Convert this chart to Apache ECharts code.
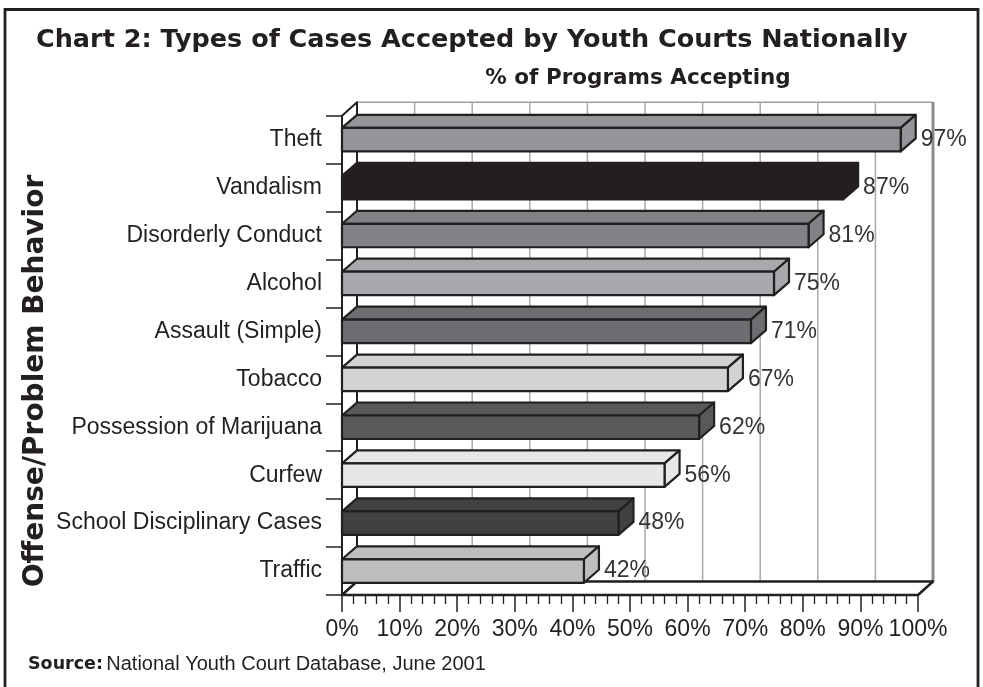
<!DOCTYPE html>
<html>
<head>
<meta charset="utf-8">
<script src="https://cdn.jsdelivr.net/npm/echarts@6/dist/echarts.min.js"></script>
<style>
html,body{margin:0;padding:0;background:#fff;}
#chart{width:983px;height:687px;}
</style>
</head>
<body>
<div id="chart"></div>
<script>
// ---- data ----
const categories = ['Theft','Vandalism','Disorderly Conduct','Alcohol','Assault (Simple)','Tobacco','Possession of Marijuana','Curfew','School Disciplinary Cases','Traffic'];
const values = [97,87,81,75,71,67,62,56,48,42];
const xTickValues = [0,10,20,30,40,50,60,70,80,90,100];

// ---- style ----
const barColors = ['#939598','#231f20','#808285','#a7a9ac','#6d6e71','#d1d3d4','#58595b','#e6e7e8','#414042','#bcbec0'];
const DX = 15, DY = -13.5;
const INK = '#231f20';
const LABEL_FONT = '"Liberation Sans", Arial, sans-serif';
const BOLD_FONT = '"DejaVu Sans", sans-serif';

const chart = echarts.init(document.getElementById('chart'));

function wallsRender(params, api) {
  const cs = params.coordSys;
  const x0 = cs.x, y0 = cs.y, w = cs.width, h = cs.height;
  const children = [];
  children.push({type:'rect', shape:{x:x0+DX, y:y0+DY, width:w, height:h},
    style:{fill:'#fff', stroke:'#9d9fa2', lineWidth:1.5}});
  xTickValues.forEach(function(t){
    if (t === 0) return;
    const px = api.coord([t, 0])[0] + DX;
    children.push({type:'line', shape:{x1:px, y1:y0+DY, x2:px, y2:y0+h+DY},
      style:{stroke: t === 100 ? '#8a8c8f' : '#a7a9ac', lineWidth: t === 100 ? 3 : 1.5}});
  });
  children.push({type:'polygon', shape:{points:[[x0,y0],[x0+DX,y0+DY],[x0+DX,y0+h+DY],[x0,y0+h]]},
    style:{fill:'#fff', stroke:INK, lineWidth:2, lineJoin:'round'}});
  children.push({type:'polygon', shape:{points:[[x0,y0+h],[x0+w,y0+h],[x0+w+DX,y0+h+DY],[x0+DX,y0+h+DY]]},
    style:{fill:'#fff', stroke:INK, lineWidth:2.5, lineJoin:'round'}});
  return {type:'group', children:children};
}

function barRender(params, api) {
  const v = api.value(0), c = api.value(1);
  const p0 = api.coord([0, c]);
  const p1 = api.coord([v, c]);
  const band = api.size([0, 1])[1];
  const hh = band * 0.49 / 2;
  const yT = p0[1] - hh, yB = p0[1] + hh;
  const xL = p0[0], xR = p1[0];
  const dx = 15, dy = -13;
  const col = barColors[params.dataIndex % barColors.length];
  const st = {fill: col, stroke: INK, lineWidth: 2.2, lineJoin: 'round'};
  return {type:'group', children:[
    {type:'polygon', shape:{points:[[xL,yT],[xR,yT],[xR+dx,yT+dy],[xL+dx,yT+dy]]}, style:st},
    {type:'polygon', shape:{points:[[xR,yT],[xR+dx,yT+dy],[xR+dx,yB+dy],[xR,yB]]}, style:st},
    {type:'rect', shape:{x:xL, y:yT, width:xR-xL, height:yB-yT}, style:st},
    {type:'text', x: xR + dx + 5, y: p0[1],
      style:{text: v + '%', fontSize: 23, fontFamily: LABEL_FONT, fill:'#333333',
        textAlign:'left', textVerticalAlign:'middle'}}
  ]};
}

const option = {
  animation: false,
  backgroundColor: '#fff',
  grid: {left: 342, right: 65, top: 115.7, bottom: 92, containLabel: false},
  xAxis: {
    type: 'value', min: 0, max: 100, interval: 10,
    axisLine: {show: true, lineStyle: {color: INK, width: 2}},
    axisTick: {show: true, length: 17, lineStyle: {color: INK, width: 1.5}},
    minorTick: {show: true, splitNumber: 5, length: 9, lineStyle: {color: INK, width: 1.3}},
    axisLabel: {formatter: '{value}%', fontSize: 23, fontFamily: LABEL_FONT, color: INK, margin: 23},
    splitLine: {show: false}
  },
  yAxis: {
    type: 'category', data: categories, inverse: true,
    axisLine: {show: true, lineStyle: {color: INK, width: 2}},
    axisTick: {show: true, length: 16, lineStyle: {color: INK, width: 1.5}},
    axisLabel: {fontSize: 23, fontFamily: LABEL_FONT, color: INK, margin: 20},
    splitLine: {show: false}
  },
  graphic: [
    {type:'rect', shape:{x:5, y:9.5, width:973, height:700}, style:{fill:'none', stroke:INK, lineWidth:2.8}, z:10},
    {type:'text', x:36, y:40, style:{text:'Chart 2: Types of Cases Accepted by Youth Courts Nationally',
      fontSize:25.5, fontWeight:'bold', fontFamily:BOLD_FONT, fill:INK, textAlign:'left', textVerticalAlign:'middle'}},
    {type:'text', x:638, y:78, style:{text:'% of Programs Accepting',
      fontSize:21.5, fontWeight:'bold', fontFamily:BOLD_FONT, fill:INK, textAlign:'center', textVerticalAlign:'middle'}},
    {type:'text', x:36, y:381, rotation: Math.PI/2, style:{text:'Offense/Problem Behavior',
      fontSize:28, fontWeight:'bold', fontFamily:BOLD_FONT, fill:INK, textAlign:'center', textVerticalAlign:'middle'}},
    {type:'text', x:28, y:664, style:{
      text:'{b|Source:} {r|National Youth Court Database, June 2001}',
      textVerticalAlign:'middle', textAlign:'left',
      rich:{
        b:{fontSize:17.5, fontWeight:'bold', fontFamily:BOLD_FONT, fill:INK, color:INK},
        r:{fontSize:20, fontFamily:LABEL_FONT, fill:INK, color:INK}
      }}}
  ],
  series: [
    {type:'custom', renderItem: wallsRender, data: [[0, 0]], silent: true, z: 1},
    {type:'custom', renderItem: barRender, data: values.map(function(v, i){ return [v, i]; }), z: 2,
      encode: {x: 0, y: 1}}
  ]
};
chart.setOption(option);
</script>
</body>
</html>
